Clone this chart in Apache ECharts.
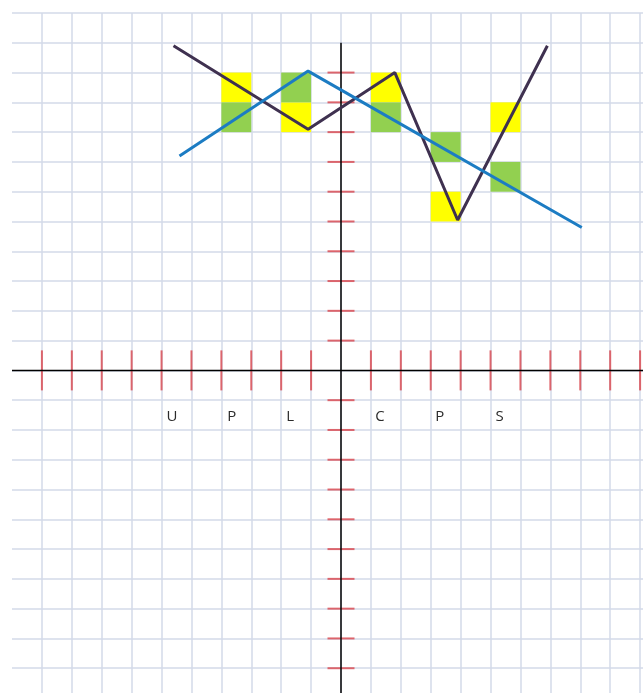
<!DOCTYPE html>
<html>
<head>
<meta charset="utf-8">
<script src="https://cdn.jsdelivr.net/npm/echarts@6/dist/echarts.min.js"></script>
<style>
  html, body { margin: 0; padding: 0; background: #fff; }
  #chart { width: 643px; height: 693px; }
</style>
</head>
<body>
<div id="chart"></div>
<script>
// coloured cells, [left x, top y] in grid units
var yellowCells = [[-4, 10], [-2, 9], [1, 10], [3, 6], [5, 9]];
var greenCells = [[-4, 9], [-2, 10], [1, 9], [3, 8], [5, 7]];
// the two lines
var purpleLine = [[-5.6, 10.9], [-1.1, 8.1], [1.8, 10], [3.9, 5.05], [6.9, 10.9]];
var blueLine = [[-5.4, 7.2], [-1.1, 10.05], [8.05, 4.8]];
// letters under the x axis
var letters = ['U', 'P', 'L', 'C', 'P', 'S'];
var letterX = [-5.65, -3.65, -1.7, 1.3, 3.3, 5.3];
var letterY = -1.55;
// red tick marks and the black axes
var xTicks = [-10, -9, -8, -7, -6, -5, -4, -3, -2, -1, 1, 2, 3, 4, 5, 6, 7, 8, 9, 10];
var yTicks = [10, 9, 8, 7, 6, 5, 4, 3, 2, 1, -1, -2, -3, -4, -5, -6, -7, -8, -9, -10];
var xAxisEnds = [[-11, 0], [11, 0]];
var yAxisEnds = [[0, 11], [0, -11]];

var chart = echarts.init(document.getElementById('chart'));

function cellSeries(cells, color) {
  return {
    type: 'custom',
    z: 1,
    silent: true,
    data: cells,
    renderItem: function (params, api) {
      var p0 = api.coord([api.value(0), api.value(1)]);
      var p1 = api.coord([api.value(0) + 1, api.value(1) - 1]);
      return {
        type: 'rect',
        shape: { x: p0[0], y: p0[1], width: p1[0] - p0[0], height: p1[1] - p0[1] },
        style: { fill: color }
      };
    }
  };
}

chart.setOption({
  animation: false,
  grid: {
    left: 12,
    top: 13,
    right: -27,
    bottom: -5,
    outerBoundsMode: 'none'
  },
  xAxis: {
    type: 'value',
    min: -11,
    max: 11,
    interval: 1,
    axisLine: { show: false },
    axisTick: { show: false },
    axisLabel: { show: false },
    splitLine: {
      show: true,
      showMinLine: false,
      lineStyle: { color: '#D3DAE8', width: 1.5 }
    }
  },
  yAxis: {
    type: 'value',
    min: -11,
    max: 12,
    interval: 1,
    axisLine: { show: false },
    axisTick: { show: false },
    axisLabel: { show: false },
    splitLine: {
      show: true,
      lineStyle: { color: '#D3DAE8', width: 1.5 }
    }
  },
  series: [
    cellSeries(yellowCells, '#FFFF00'),
    cellSeries(greenCells, '#92D050'),
    {
      type: 'scatter',
      z: 3,
      silent: true,
      symbol: 'rect',
      symbolSize: [2, 40],
      itemStyle: { color: '#D9434B' },
      data: xTicks.map(function (x) { return [x, 0]; })
    },
    {
      type: 'scatter',
      z: 3,
      silent: true,
      symbol: 'rect',
      symbolSize: [27, 2],
      itemStyle: { color: '#D9434B' },
      data: yTicks.map(function (y) { return [0, y]; })
    },
    {
      type: 'line',
      z: 4,
      silent: true,
      symbol: 'none',
      lineStyle: { color: '#000', width: 1.5 },
      data: xAxisEnds
    },
    {
      type: 'line',
      z: 4,
      silent: true,
      symbol: 'none',
      lineStyle: { color: '#000', width: 1.5 },
      data: yAxisEnds
    },
    {
      type: 'line',
      z: 5,
      silent: true,
      symbol: 'none',
      lineStyle: { color: '#3F3150', width: 3 },
      data: purpleLine
    },
    {
      type: 'line',
      z: 6,
      silent: true,
      symbol: 'none',
      lineStyle: { color: '#1C7CC3', width: 3 },
      data: blueLine
    },
    {
      type: 'custom',
      z: 6,
      silent: true,
      data: letterX.map(function (x, i) { return [x, letterY, i]; }),
      renderItem: function (params, api) {
        var p = api.coord([api.value(0), api.value(1)]);
        return {
          type: 'text',
          x: p[0],
          y: p[1],
          style: {
            text: letters[api.value(2)],
            fill: '#2b2b2b',
            font: '15px "Open Sans"',
            align: 'center',
            verticalAlign: 'middle'
          }
        };
      }
    }
  ]
});
</script>
</body>
</html>
